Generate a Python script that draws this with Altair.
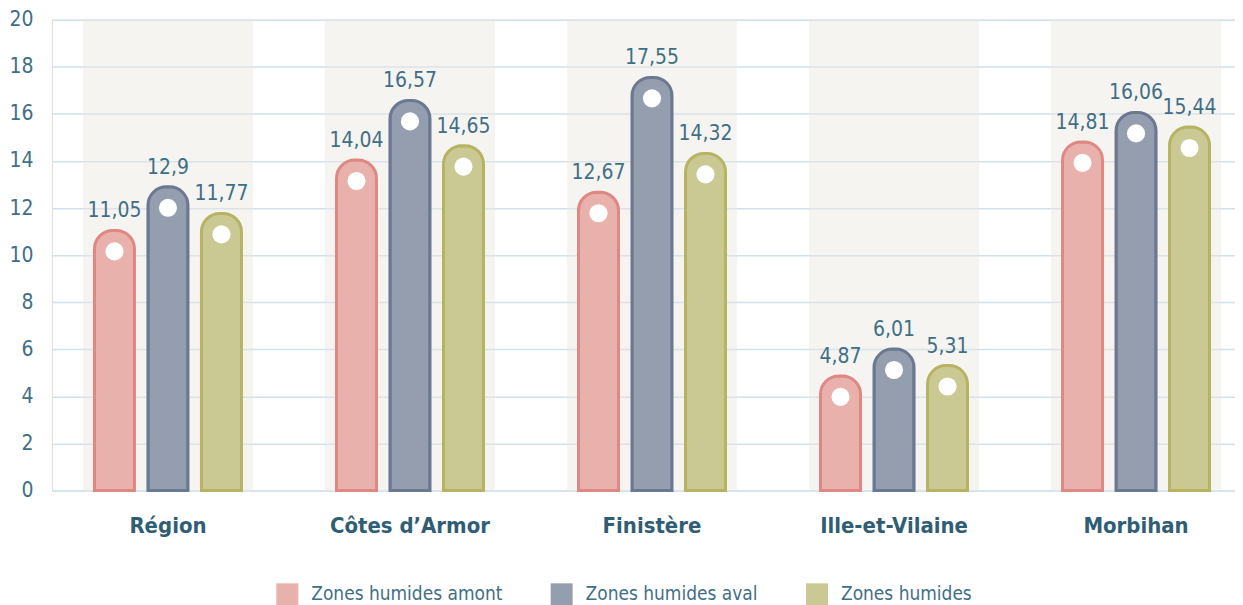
import altair as alt
import pandas as pd

categories = ["Région", "Côtes d’Armor", "Finistère", "Ille-et-Vilaine", "Morbihan"]
series = ["Zones humides amont", "Zones humides aval", "Zones humides"]
amont = [11.05, 14.04, 12.67, 4.87, 14.81]
aval = [12.9, 16.57, 17.55, 6.01, 16.06]
humides = [11.77, 14.65, 14.32, 5.31, 15.44]
y_ticks = [0, 2, 4, 6, 8, 10, 12, 14, 16, 18, 20]

fill_colors = ["#e9b1ab", "#959eaf", "#cbc993"]
stroke_colors = ["#df8883", "#6a7890", "#b6b463"]

rows = []
for s, vals in zip(series, [amont, aval, humides]):
    for c, v in zip(categories, vals):
        rows.append({"cat": c, "serie": s, "value": v})
df = pd.DataFrame(rows)
bands = pd.DataFrame({"cat": categories, "top": [max(y_ticks)] * len(categories)})

FONT = "DejaVu Sans Condensed"
TXT = "#3f6f86"

x_enc = alt.X("cat:N", sort=categories,
              scale=alt.Scale(paddingInner=0.2975, paddingOuter=0.093, align=0.69),
              axis=alt.Axis(title=None, labelAngle=0, domain=False, ticks=False,
                            labelFont=FONT, labelFontSize=22, labelFontWeight="bold",
                            labelColor="#2f5e74", labelPadding=25))
y_scale = alt.Scale(domain=[0, 20])
xoff = alt.XOffset("serie:N", sort=series,
                   scale=alt.Scale(paddingInner=0.252, paddingOuter=0.215))

band = alt.Chart(bands).mark_bar(color="#ebe6e1", opacity=0.45).encode(
    x=x_enc,
    y=alt.Y("top:Q", scale=y_scale,
            axis=alt.Axis(title=None, values=y_ticks, domain=False, ticks=False,
                          labelFont=FONT, labelFontSize=21, labelColor=TXT,
                          labelPadding=19, gridColor="#cfe1ec", gridWidth=1.5)),
)

bars = alt.Chart(df).mark_bar(strokeWidth=3, cornerRadiusTopLeft=18.5,
                              cornerRadiusTopRight=18.5).encode(
    x=x_enc,
    xOffset=xoff,
    y=alt.Y("value:Q", scale=y_scale),
    color=alt.Color("serie:N", sort=series,
                    scale=alt.Scale(domain=series, range=fill_colors),
                    legend=alt.Legend(title=None, orient="none", direction="horizontal",
                                      legendX=225, legendY=565,
                                      symbolType="square", symbolSize=484,
                                      symbolStrokeWidth=0, symbolOpacity=1,
                                      labelFont=FONT, labelFontSize=19, labelColor=TXT,
                                      labelLimit=0, labelOffset=13, columnPadding=48)),
    stroke=alt.Stroke("serie:N", sort=series,
                      scale=alt.Scale(domain=series, range=stroke_colors), legend=None),
)

dots = alt.Chart(df).mark_point(filled=True, color="white", opacity=1, size=330,
                                yOffset=21).encode(
    x=x_enc, xOffset=xoff, y=alt.Y("value:Q", scale=y_scale))

labels = alt.Chart(df).transform_calculate(
    lab="replace(toString(datum.value), '.', ',')"
).mark_text(font=FONT, fontSize=21, color=TXT, baseline="alphabetic", dy=-13).encode(
    x=x_enc, xOffset=xoff, y=alt.Y("value:Q", scale=y_scale), text="lab:N")

chart = alt.layer(band, bars, dots, labels).properties(
    width=1186, height=472,
    padding={"left": 0, "top": 0, "right": 0, "bottom": 5},
).configure_view(stroke=None).configure(background="white")

chart.save("out.html", embed_options={"renderer": "svg", "actions": False})
